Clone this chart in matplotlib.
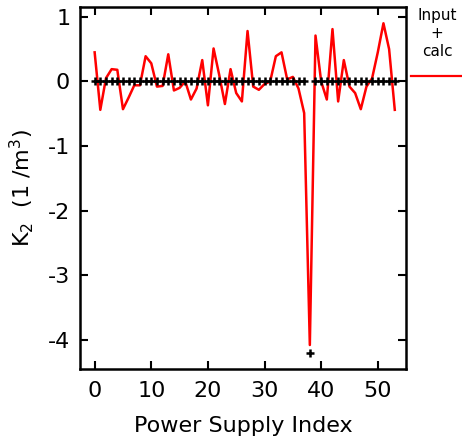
import matplotlib.pyplot as plt
import numpy as np

# K2 values per power supply (index 0..53)
calc = [0.45, -0.44, 0.05, 0.19, 0.18, -0.43, -0.25, -0.06, -0.06, 0.39,
        0.28, -0.08, -0.07, 0.42, -0.14, -0.10, 0.00, -0.28, -0.11, 0.33,
        -0.37, 0.51, 0.10, -0.35, 0.19, -0.18, -0.31, 0.78, -0.08, -0.13,
        -0.04, 0.00, 0.39, 0.45, 0.03, 0.07, -0.11, -0.49, -4.08, 0.71,
        0.00, -0.28, 0.81, -0.31, 0.33, -0.08, -0.18, -0.43, -0.08, 0.05,
        0.45, 0.90, 0.50, -0.44]
inp = [0.0] * 54
inp[38] = -4.2
index = np.arange(len(calc))

plt.rcParams['font.family'] = ['DejaVu Sans']
plt.rcParams['axes.unicode_minus'] = False

fig = plt.figure(figsize=(4.62, 4.45), dpi=100)
ax = fig.add_axes([0.173, 0.171, 0.706, 0.813])

ax.plot(index, calc, color='red', lw=1.8)
ax.plot(index, inp, ls='none', marker='+', ms=6, mew=1.8, color='black')

ax.set_xlim(-2.6, 55)
ax.set_ylim(-4.45, 1.15)
ax.set_xticks([0, 10, 20, 30, 40, 50])
ax.set_yticks([1, 0, -1, -2, -3, -4])
ax.tick_params(direction='in', top=True, right=True, length=6, width=1.5,
               labelsize=16)
ax.tick_params(axis='x', pad=9)
ax.tick_params(axis='y', pad=7)
for s in ax.spines.values():
    s.set_linewidth(1.8)

ax.set_xlabel('Power Supply Index', fontsize=16)
ax.xaxis.set_label_coords(0.5, -0.13)
ax.set_ylabel(r'K$_2$  (1 /m$^3$)', fontsize=16, va='center')
ax.yaxis.set_label_coords(-0.18, 0.5)

fig.text(0.946, 0.965, 'Input', ha='center', va='center', fontsize=11)
fig.text(0.946, 0.925, '+', ha='center', va='center', fontsize=11)
fig.text(0.946, 0.885, 'calc', ha='center', va='center', fontsize=11)
fig.add_artist(plt.Line2D([0.89, 0.997], [0.829, 0.829], color='red', lw=1.6))

fig.savefig('out.png', dpi=100)
